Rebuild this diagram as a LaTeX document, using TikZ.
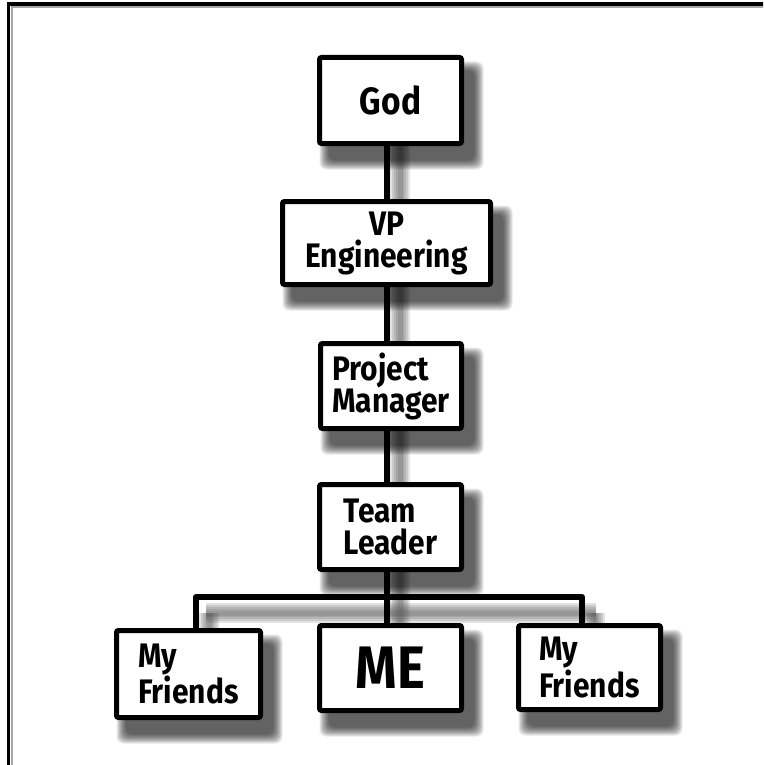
\documentclass[tikz,border=0pt]{standalone}
\usepackage{fontspec}
\newfontfamily\hand[FakeStretch=0.88]{Fira Sans}
\usetikzlibrary{backgrounds}

\tikzset{
  box/.style={draw=black, line width=5pt, fill=white, rounded corners=2pt,
    inner sep=0pt, outer sep=0pt,
    font=\hand\bfseries\fontsize{34}{32}\selectfont, align=left},
  link/.style={line width=6pt, black},
  linkshade/.style={line width=#1, black!70, opacity=0.16},
  boxshade/.style={fill=black, opacity=0.09, rounded corners=7pt},
  frame/.style={line width=3.5pt, black},
}

\begin{document}
\begin{tikzpicture}[x=1pt, y=-1pt]
\useasboundingbox (0,0) rectangle (763,765);

% page frame, open towards the right and bottom edges
\begin{scope}
  \clip (0,0) rectangle (763,765);
  \draw[black!35, line width=2pt] (11.5,790) -- (11.5,7.5) -- (790,7.5);
  \draw[frame] (8.5,790) -- (8.5,4) -- (790,4);
\end{scope}

% anchor points of the branch bar
\coordinate (bm) at (387,597);
\coordinate (bl) at (196,597);
\coordinate (br) at (582,597);

% boxes
\node[box, minimum width=142pt, minimum height=86pt] (god) at (390.5,100.5)
  {\fontsize{38}{34}\selectfont God};
\node[box, minimum width=208pt, minimum height=83pt, align=center] (vp) at (386.5,243)
  {VP\\Engineering};
\node[box, minimum width=141pt, minimum height=85pt] (pm) at (391,386)
  {Project\\Manager};
\node[box, minimum width=142pt, minimum height=85pt] (tl) at (390.5,527)
  {Team\\Leader};
\node[box, minimum width=144pt, minimum height=87pt] (fl) at (188.5,674)
  {My\\Friends};
\node[box, minimum width=142pt, minimum height=85pt] (me) at (390.5,668)
  {\fontsize{60}{50}\selectfont ME};
\node[box, minimum width=142pt, minimum height=84pt] (fr) at (589.5,667.5)
  {My\\Friends};

% connectors and soft drop shadows, kept behind the boxes
\begin{scope}[on background layer]
  \foreach \w in {20pt,16pt,12pt,8pt,5pt}{
    \draw[linkshade=\w] (400,146) -- (400,640);
    \draw[linkshade=\w] (206,613) -- (596,613);
    \draw[linkshade=\w] (209,613) -- (209,640);
    \draw[linkshade=\w] (595,613) -- (595,640);
  }
  \foreach \n in {god,vp,pm,tl,fl,me,fr}{
    \foreach \k in {0,...,9}{
      \fill[boxshade]
        ([shift={(\k,4+\k)}]\n.north west) rectangle
        ([shift={(22-\k,26-\k)}]\n.south east);
    }
  }
  \draw[link] (god.south -| bm) -- (vp.north -| bm);
  \draw[link] (vp.south -| bm) -- (pm.north -| bm);
  \draw[link] (pm.south -| bm) -- (tl.north -| bm);
  \draw[link] (tl.south -| bm) -- (me.north -| bm);
  \draw[link, line cap=round] (bl) -- (br);
  \draw[link] (bl) -- (fl.north -| bl);
  \draw[link] (br) -- (fr.north -| br);
\end{scope}
\end{tikzpicture}
\end{document}
